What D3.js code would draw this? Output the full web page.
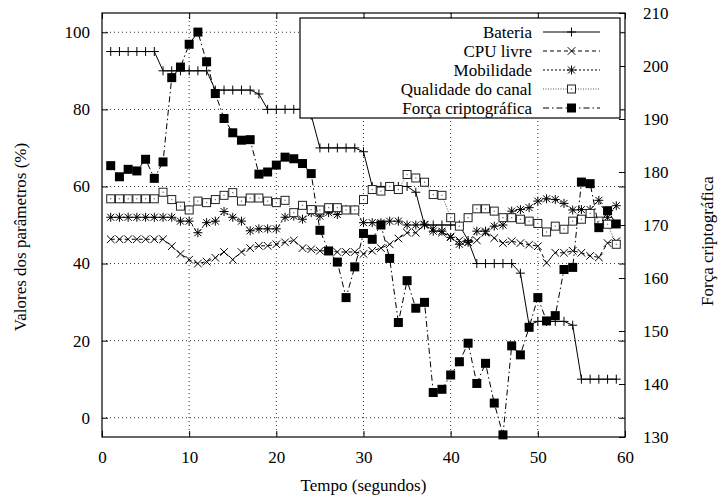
<!DOCTYPE html>
<html>
<head>
<meta charset="utf-8">
<script src="https://cdn.jsdelivr.net/npm/d3@7"></script>
<style>
    body { margin: 0; background: #fff; }
    svg text { font-family: "Liberation Serif", "Times New Roman", Times, "DejaVu Serif", serif; font-size: 17px; fill: #000; }
</style>
</head>
<body>
<div id="chart"></div>
<script>
// time axis (seconds)
let tempo = d3.range(1, 60);

let bateria = [95,95,95,95,95,95, 90,90,90,90,90,90, 85,85,85,85,85, 84, 80,80,80,80,80, 78.5,
    70,70,70,70,70, 69, 60,60,60,60,60, 58.5, 50,50,50,50,50, 46, 40,40,40,40,40, 37.5, 24,
    25,25,25,25, 24, 10,10,10,10,10];

let cpuLivre = [46.3,46.3,46.3,46.3,46.3,46.3,46.3, 44.5,42.5,41,40,40.5,41.5,43,41,43,44,44.6,44.6,45,
    45.5,46,44,43.7,43.3,43.3,43,43,43,42.5, 43.3,44,45,46.5,48,48,50,49,48,47,
    46,45.5,46,48,46.6,45.3,45.8,45.3,44.9,44.5, 40.2,42.8,42.8,43.3,42.8,42,41.6,45.3,45.8];

let mobilidade = [52,52,52,52,52,52,52,52, 51,51,48,50.6,51,53.5,52,51,48.5,49,49,49,
    52,52.3,51.5,53.2,52.3,53.2,52.7,54,54,50.6, 50.6,50.6,51,51,50,50,50.2,48.4,48.4,46.8,
    45,45.5,48.4,48.4,49.7,50,53.6,54,54.5,56.2, 56.8,56.6,55.6,53.9,54,54,56.4,52,55];

let qualidade = [56.8,56.8,56.8,56.8,56.8,56.8, 58.5,56.6,54.9,53.9,56.2,55.8,56.6,57.7,58.4,56.2,57,57,56.2,55.8,
    56.4,53.2,55.1,54,53.9,54.5,54.5,53.9,53.9,56.6, 59.2,58.8,60,59.2,63.1,62.2,61.1,57.9,57.7,51.9,
    49.7,51.9,54.2,54.2,53.6,51.9,51.9,51.5,51,50.4, 48.2,49.7,48.9,51,51.5,53,51,50.2,45];

// right axis
let forca = [181.2,179.1,180.5,180.2,182.4,178.8,181.9,197.8,199.8,204.1,
    206.4,200.8,194.8,190.1,187.4,186,186.1,179.6,180,181.3,
    182.8,182.5,181.6,179.7,169,165.1,163,156.3,162.1,168.4,
    167.3,170,163.7,151.6,159.5,154.3,155.4,138.4,139,141.7,
    144.2,147.7,140.1,143.9,136.4,130.4,147.2,145.5,150.7,156.3,
    151.9,152.9,161.6,162,178.1,177.8,169.5,172.7,170.2];

let xTicks = [0, 10, 20, 30, 40, 50, 60];
let yTicks = [0, 20, 40, 60, 80, 100];
let y2Ticks = [130, 140, 150, 160, 170, 180, 190, 200, 210];

let seriesNames = ["Bateria", "CPU livre", "Mobilidade", "Qualidade do canal", "Força criptográfica"];

// ---- layout
let W = 722, H = 503;
let margin = {top: 13, right: 97, bottom: 66, left: 102};
let width = W - margin.left - margin.right;
let height = H - margin.top - margin.bottom;
let serif = '"Liberation Serif", "Times New Roman", Times, "DejaVu Serif", serif';

let svg = d3.select("#chart").append("svg")
    .attr("width", W)
    .attr("height", H)
    .style("font-family", serif);

let g = svg.append("g")
    .attr("transform", `translate(${margin.left},${margin.top})`);

let x = d3.scaleLinear().domain([0, 60]).range([0, width]);
let y = d3.scaleLinear().domain([-5, 105]).range([height, 0]);
let y2 = d3.scaleLinear().domain([130, 210]).range([height, 0]);

// grid
g.append("g").selectAll("line.gy")
    .data(yTicks).enter().append("line")
    .attr("x1", 0).attr("x2", width)
    .attr("y1", d => y(d)).attr("y2", d => y(d))
    .attr("stroke", "#333").attr("stroke-width", 1)
    .attr("stroke-dasharray", "1,3");

g.append("g").selectAll("line.gx")
    .data(xTicks.slice(1, -1)).enter().append("line")
    .attr("y1", 0).attr("y2", height)
    .attr("x1", d => x(d)).attr("x2", d => x(d))
    .attr("stroke", "#333").attr("stroke-width", 1)
    .attr("stroke-dasharray", "1,3");

// axes, ticks inward like gnuplot
let tick = 6;
g.append("g").attr("transform", `translate(0,${height})`)
    .call(d3.axisBottom(x).tickValues(xTicks).tickSize(-tick).tickPadding(14));
g.append("g")
    .call(d3.axisTop(x).tickValues(xTicks).tickSize(-tick).tickFormat(""));
g.append("g")
    .call(d3.axisLeft(y).tickValues(yTicks).tickSize(-tick).tickPadding(12));
g.append("g").attr("transform", `translate(${width},0)`)
    .call(d3.axisRight(y).tickValues(yTicks).tickSize(-tick).tickFormat(""));
g.append("g").attr("transform", `translate(${width},0)`)
    .call(d3.axisRight(y2).tickValues(y2Ticks).tickSize(-tick).tickPadding(18));

g.selectAll(".domain").remove();
g.selectAll(".tick line").attr("stroke", "#000");
g.selectAll("g").attr("font-family", null).attr("font-size", null);
g.selectAll(".tick text").style("font-family", serif).style("font-size", "17px");

g.append("rect")
    .attr("width", width).attr("height", height)
    .attr("fill", "none").attr("stroke", "#000").attr("stroke-width", 1.2);

// axis titles
svg.append("text")
    .attr("x", margin.left + width / 2).attr("y", 491)
    .attr("text-anchor", "middle")
    .text("Tempo (segundos)");
svg.append("text")
    .attr("transform", "translate(26,237) rotate(-90)")
    .attr("text-anchor", "middle")
    .text("Valores dos parâmetros (%)");
svg.append("text")
    .attr("transform", "translate(713,241) rotate(-90)")
    .attr("text-anchor", "middle")
    .text("Força criptográfica");

// markers
let sym = {
    plus: "M-4.5,0H4.5M0,-4.5V4.5",
    cross: "M-3.8,-3.8L3.8,3.8M-3.8,3.8L3.8,-3.8",
    star: "M-4.5,0H4.5M0,-4.5V4.5M-3.5,-3.5L3.5,3.5M-3.5,3.5L3.5,-3.5"
};

let series = [
    {name: seriesNames[0], values: bateria, scale: y, dash: null, color: "#000", marker: "plus"},
    {name: seriesNames[1], values: cpuLivre, scale: y, dash: "4,3", color: "#000", marker: "cross"},
    {name: seriesNames[2], values: mobilidade, scale: y, dash: "2,2", color: "#000", marker: "star"},
    {name: seriesNames[3], values: qualidade, scale: y, dash: "1,1.5", color: "#555", marker: "box"},
    {name: seriesNames[4], values: forca, scale: y2, dash: "6,3,1.5,3", color: "#000", marker: "fbox"}
];

function drawMarker(sel, type, color) {
    if (type === "box") {
        sel.append("rect").attr("x", -4).attr("y", -4).attr("width", 8).attr("height", 8)
            .attr("fill", "#fff").attr("stroke", "#222").attr("stroke-width", 1);
        sel.append("rect").attr("x", -0.6).attr("y", -0.6).attr("width", 1.2).attr("height", 1.2)
            .attr("fill", "#666");
    } else if (type === "fbox") {
        sel.append("rect").attr("x", -4.5).attr("y", -4.5).attr("width", 9).attr("height", 9)
            .attr("fill", "#000");
    } else {
        sel.append("path").attr("d", sym[type])
            .attr("stroke", color).attr("stroke-width", 1).attr("fill", "none");
    }
}

series.forEach(s => {
    let line = d3.line()
        .x((d, i) => x(tempo[i]))
        .y(d => s.scale(d));

    g.append("path")
        .datum(s.values)
        .attr("d", line)
        .attr("fill", "none")
        .attr("stroke", s.color)
        .attr("stroke-width", 1)
        .attr("stroke-dasharray", s.dash);

    g.append("g").selectAll("g")
        .data(s.values).enter().append("g")
        .attr("transform", (d, i) => `translate(${x(tempo[i])},${s.scale(d)})`)
        .each(function() { drawMarker(d3.select(this), s.marker, s.color); });
});

// legend
let legend = g.append("g");
legend.append("rect")
    .attr("x", 300 - margin.left).attr("y", 18 - margin.top)
    .attr("width", 320).attr("height", 100)
    .attr("fill", "#fff").attr("stroke", "#000").attr("stroke-width", 1.2);

series.forEach((s, i) => {
    let cy = 32 - margin.top + i * 19;
    legend.append("text")
        .attr("x", 532 - margin.left).attr("y", cy + 6)
        .attr("text-anchor", "end")
        .text(s.name);
    legend.append("line")
        .attr("x1", 543 - margin.left).attr("x2", 600 - margin.left)
        .attr("y1", cy).attr("y2", cy)
        .attr("stroke", s.color).attr("stroke-width", 1)
        .attr("stroke-dasharray", s.dash);
    drawMarker(legend.append("g").attr("transform", `translate(${571.5 - margin.left},${cy})`), s.marker, s.color);
});
</script>
</body>
</html>
